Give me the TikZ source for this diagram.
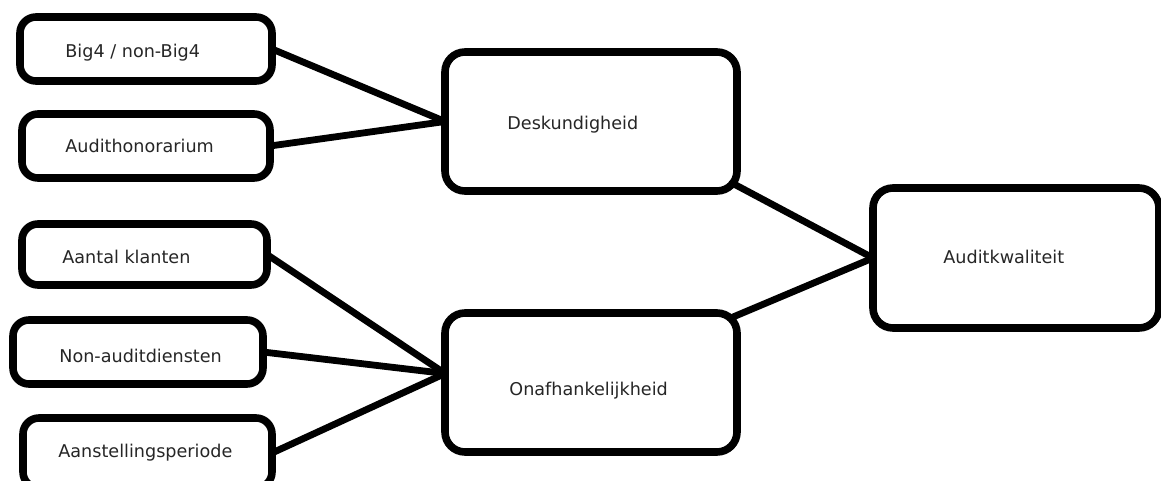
\documentclass[tikz,border=0pt]{standalone}
\usepackage{fontspec}
\setmainfont{DejaVu Sans}
\usetikzlibrary{calc}
\begin{document}
\begin{tikzpicture}[x=0.5pt,y=-0.5pt,
  box/.style={draw=black, line width=3.8pt, rectangle, rounded corners=8pt, inner sep=0pt, outer sep=0pt},
  bigbox/.style={box, rounded corners=10pt},
  lbl/.style={anchor=base west, inner sep=0pt, font=\fontsize{8.8pt}{10pt}\selectfont, text=black!85},
  conn/.style={line width=3.4pt, line cap=round}]
\clip (0,0) rectangle (1161,481);
\fill[white] (0,0) rectangle (1161,481);
% boxes
\node[box, minimum width=126pt, minimum height=32pt] (big4) at (146,49) {};
\node[box, minimum width=124pt, minimum height=32pt] (hon) at (146,146) {};
\node[box, minimum width=122.5pt, minimum height=30.5pt] (klant) at (144.5,254.5) {};
\node[box, minimum width=125pt, minimum height=32pt] (nonaud) at (138,352) {};
\node[box, minimum width=124.5pt, minimum height=35pt] (aanst) at (147.5,453) {};
\node[bigbox, minimum width=146pt, minimum height=69.5pt] (desk) at (591,121.5) {};
\node[bigbox, minimum width=146pt, minimum height=69.5pt] (onaf) at (591,382.5) {};
\node[bigbox, minimum width=143pt, minimum height=70pt] (kwal) at (1016,258) {};
% labels
\node[lbl] (t1) at (65,58) {Big4 / non-Big4};
\node[lbl] (t2) at (65,153) {Audithonorarium};
\node[lbl] (t3) at (62,263) {Aantal klanten};
\node[lbl] (t4) at (59,362) {Non-auditdiensten};
\node[lbl] (t5) at (58,457) {Aanstellingsperiode};
\node[lbl] (t6) at (507,129) {Deskundigheid};
\node[lbl] (t7) at (509,395) {Onafhankelijkheid};
\node[lbl] (t8) at (943,263) {Auditkwaliteit};
% connector anchors
\coordinate (dIn) at (desk.west);
\coordinate (oIn) at ($(onaf.west)+(0,-9)$);
\coordinate (dOut) at ($(desk.south east)+(-5,-8)$);
\coordinate (oOut) at ($(onaf.north east)+(-4,4)$);
% connectors
\draw[conn] (big4.east) -- (dIn);
\draw[conn] (hon.east) -- (dIn);
\draw[conn] (klant.east) -- (oIn);
\draw[conn] (nonaud.east) -- (oIn);
\draw[conn] (aanst.east) -- (oIn);
\draw[conn] (dOut) -- (kwal.west);
\draw[conn] (oOut) -- (kwal.west);
\end{tikzpicture}
\end{document}
